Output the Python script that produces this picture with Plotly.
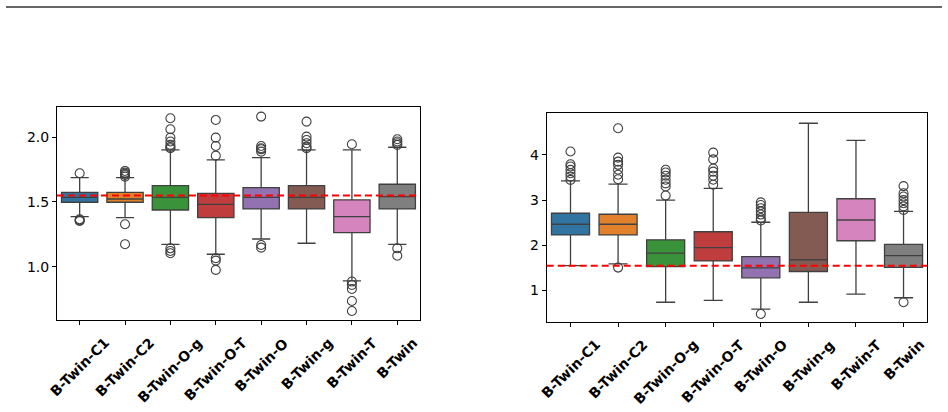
import plotly.graph_objects as go

# ── Data ────────────────────────────────────────────────────────────────────
CATEGORIES = ["B-Twin-C1", "B-Twin-C2", "B-Twin-O-g", "B-Twin-O-T",
              "B-Twin-O", "B-Twin-g", "B-Twin-T", "B-Twin"]

REFERENCE_VALUE = 1.55

LEFT_Q1  = [1.498, 1.498, 1.438, 1.379, 1.446, 1.446, 1.263, 1.446]
LEFT_MED = [1.536, 1.523, 1.536, 1.482, 1.536, 1.536, 1.387, 1.541]
LEFT_Q3  = [1.575, 1.575, 1.627, 1.567, 1.611, 1.627, 1.516, 1.637]
LEFT_LO  = [1.387, 1.379, 1.173, 1.096, 1.214, 1.181, 0.890, 1.173]
LEFT_HI  = [1.688, 1.688, 1.902, 1.825, 1.843, 1.902, 1.902, 1.923]
LEFT_OUTLIERS = [
    [1.722, 1.366, 1.358, 1.353],
    [1.740, 1.727, 1.718, 1.709, 1.696, 1.328, 1.173],
    [2.147, 2.062, 1.997, 1.967, 1.941, 1.925, 1.915, 1.142, 1.121, 1.104],
    [2.134, 1.997, 1.933, 1.858, 1.065, 1.047, 0.975],
    [2.160, 1.933, 1.915, 1.907, 1.889, 1.168, 1.147],
    [2.121, 2.005, 1.979, 1.954, 1.928, 1.915],
    [1.946, 0.885, 0.859, 0.828, 0.735, 0.658],
    [1.985, 1.967, 1.954, 1.941, 1.142, 1.085],
]

RIGHT_Q1  = [2.230, 2.230, 1.530, 1.655, 1.280, 1.420, 2.100, 1.510]
RIGHT_MED = [2.466, 2.466, 1.825, 1.950, 1.500, 1.680, 2.560, 1.770]
RIGHT_Q3  = [2.709, 2.687, 2.120, 2.300, 1.750, 2.730, 3.030, 2.020]
RIGHT_LO  = [1.552, 1.589, 0.740, 0.780, 0.590, 0.740, 0.920, 0.840]
RIGHT_HI  = [3.425, 3.351, 3.000, 3.260, 2.510, 4.700, 4.320, 2.750]
RIGHT_OUTLIERS = [
    [4.074, 3.794, 3.742, 3.668, 3.594, 3.520, 3.447],
    [4.590, 3.940, 3.850, 3.780, 3.670, 3.560, 3.460, 1.507],
    [3.670, 3.610, 3.540, 3.450, 3.370, 3.300, 3.100],
    [4.050, 3.900, 3.700, 3.630, 3.540, 3.450, 3.340],
    [2.950, 2.890, 2.820, 2.750, 2.680, 2.600, 2.550, 0.480],
    [],
    [],
    [3.310, 3.150, 3.080, 3.000, 2.930, 2.860, 2.780, 0.740],
]

# seaborn tab10 at saturation 0.75
BOX_COLORS = ["#3274a1", "#e1812c", "#3a923a", "#c03d3e",
              "#9372b2", "#845b53", "#d684bd", "#7f7f7f"]
LINE_COLOR = "#404040"
FONT = "DejaVu Sans"

fig = go.Figure()


def add_panel(xa, ya, q1, med, q3, lo, hi, outliers):
    for i, cat in enumerate(CATEGORIES):
        fig.add_trace(go.Box(
            x=[cat], q1=[q1[i]], median=[med[i]], q3=[q3[i]],
            lowerfence=[lo[i]], upperfence=[hi[i]],
            width=0.8, whiskerwidth=0.5,
            fillcolor=BOX_COLORS[i],
            line=dict(color=LINE_COLOR, width=1.3),
            boxpoints=False, showlegend=False,
            xaxis=xa, yaxis=ya,
        ))
        if outliers[i]:
            fig.add_trace(go.Scatter(
                x=[cat] * len(outliers[i]), y=outliers[i], mode="markers",
                marker=dict(symbol="circle-open", size=9, color=LINE_COLOR,
                            line=dict(width=1.1)),
                showlegend=False, xaxis=xa, yaxis=ya,
            ))


add_panel("x", "y", LEFT_Q1, LEFT_MED, LEFT_Q3, LEFT_LO, LEFT_HI, LEFT_OUTLIERS)
add_panel("x2", "y2", RIGHT_Q1, RIGHT_MED, RIGHT_Q3, RIGHT_LO, RIGHT_HI, RIGHT_OUTLIERS)

axis_common = dict(showline=True, linecolor="black", linewidth=1, mirror=True,
                   ticks="outside", ticklen=4, tickcolor="black",
                   showgrid=False, zeroline=False,
                   tickfont=dict(family=FONT, size=14, color="black"))

fig.update_layout(
    xaxis=dict(domain=[0.0601, 0.443], anchor="y", type="category",
               categoryorder="array", categoryarray=CATEGORIES,
               range=[-0.5, 7.5], showticklabels=False, **axis_common),
    yaxis=dict(domain=[0.2233, 0.7403], anchor="x", range=[0.588, 2.234],
               tickvals=[1.0, 1.5, 2.0], tickformat=".1f", **axis_common),
    xaxis2=dict(domain=[0.5767, 0.9782], anchor="y2", type="category",
                categoryorder="array", categoryarray=CATEGORIES,
                range=[-0.5, 7.5], showticklabels=False, **axis_common),
    yaxis2=dict(domain=[0.2192, 0.725], anchor="x2", range=[0.31, 4.92],
                tickvals=[1, 2, 3, 4], **axis_common),
    plot_bgcolor="white",
    paper_bgcolor="white",
    width=948, height=412,
    margin=dict(l=0, r=0, t=0, b=0),
    showlegend=False,
    font=dict(family=FONT, color="black"),
)

# red dashed reference line on both panels
for xa, ya in (("x", "y"), ("x2", "y2")):
    fig.add_shape(type="line", xref=f"{xa} domain", yref=ya,
                  x0=0, x1=1, y0=REFERENCE_VALUE, y1=REFERENCE_VALUE,
                  line=dict(color="#ff0000", width=2, dash="7px,4px"),
                  layer="above")

# rotated, centred category labels (matplotlib style)
for xa, ybottom in (("x", 0.2233), ("x2", 0.2192)):
    for cat in CATEGORIES:
        fig.add_annotation(
            x=cat, xref=xa, y=ybottom, yref="paper",
            text=f"<b>{cat}</b>", textangle=-45, showarrow=False,
            xanchor="center", yanchor="top", yshift=-12,
            font=dict(family=FONT, size=14, color="black"),
        )

# thin rule across the top
fig.add_shape(type="line", xref="paper", yref="paper",
              x0=6 / 948, x1=942 / 948, y0=1 - 7 / 412, y1=1 - 7 / 412,
              line=dict(color="#333333", width=1.5))

fig.write_html("out.html", config={"displayModeBar": False},
               post_script="document.body.style.margin='0';")
